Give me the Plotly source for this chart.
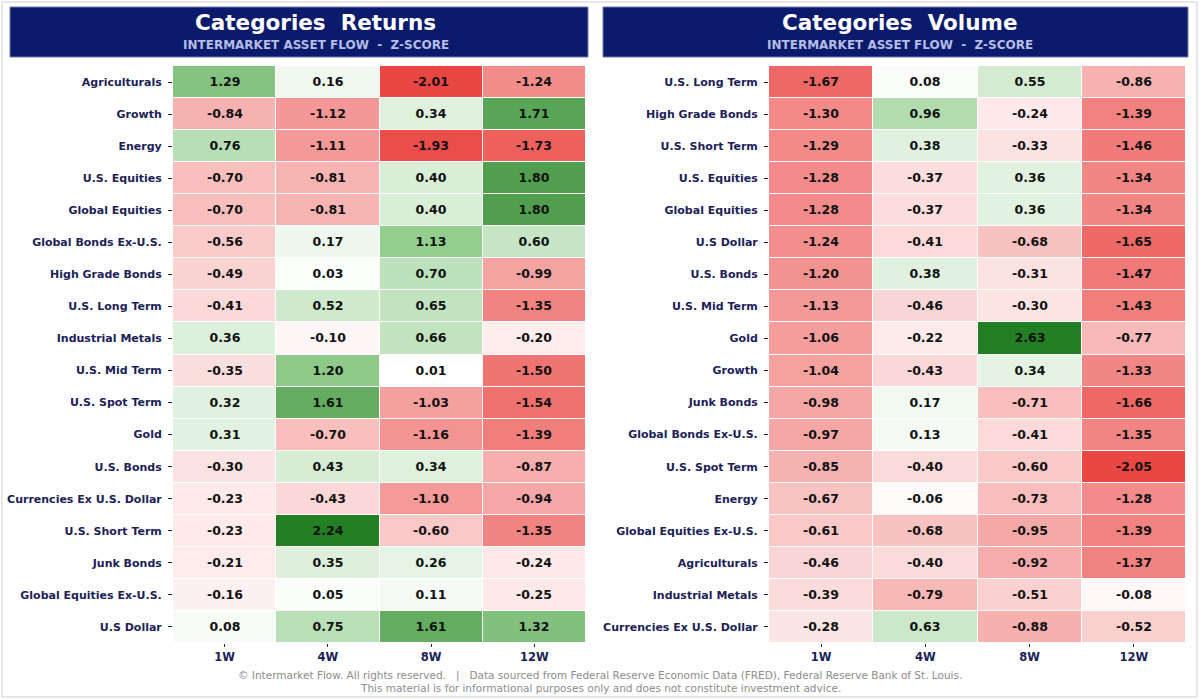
import plotly.graph_objects as go

# ---------------- data ----------------
periods = ["1W", "4W", "8W", "12W"]

returns_categories = [
    "Agriculturals", "Growth", "Energy", "U.S. Equities", "Global Equities",
    "Global Bonds Ex-U.S.", "High Grade Bonds", "U.S. Long Term", "Industrial Metals",
    "U.S. Mid Term", "U.S. Spot Term", "Gold", "U.S. Bonds", "Currencies Ex U.S. Dollar",
    "U.S. Short Term", "Junk Bonds", "Global Equities Ex-U.S.", "U.S Dollar",
]
returns_values = [
    [1.29, 0.16, -2.01, -1.24],
    [-0.84, -1.12, 0.34, 1.71],
    [0.76, -1.11, -1.93, -1.73],
    [-0.70, -0.81, 0.40, 1.80],
    [-0.70, -0.81, 0.40, 1.80],
    [-0.56, 0.17, 1.13, 0.60],
    [-0.49, 0.03, 0.70, -0.99],
    [-0.41, 0.52, 0.65, -1.35],
    [0.36, -0.10, 0.66, -0.20],
    [-0.35, 1.20, 0.01, -1.50],
    [0.32, 1.61, -1.03, -1.54],
    [0.31, -0.70, -1.16, -1.39],
    [-0.30, 0.43, 0.34, -0.87],
    [-0.23, -0.43, -1.10, -0.94],
    [-0.23, 2.24, -0.60, -1.35],
    [-0.21, 0.35, 0.26, -0.24],
    [-0.16, 0.05, 0.11, -0.25],
    [0.08, 0.75, 1.61, 1.32],
]

volume_categories = [
    "U.S. Long Term", "High Grade Bonds", "U.S. Short Term", "U.S. Equities",
    "Global Equities", "U.S Dollar", "U.S. Bonds", "U.S. Mid Term", "Gold", "Growth",
    "Junk Bonds", "Global Bonds Ex-U.S.", "U.S. Spot Term", "Energy",
    "Global Equities Ex-U.S.", "Agriculturals", "Industrial Metals",
    "Currencies Ex U.S. Dollar",
]
volume_values = [
    [-1.67, 0.08, 0.55, -0.86],
    [-1.30, 0.96, -0.24, -1.39],
    [-1.29, 0.38, -0.33, -1.46],
    [-1.28, -0.37, 0.36, -1.34],
    [-1.28, -0.37, 0.36, -1.34],
    [-1.24, -0.41, -0.68, -1.65],
    [-1.20, 0.38, -0.31, -1.47],
    [-1.13, -0.46, -0.30, -1.43],
    [-1.06, -0.22, 2.63, -0.77],
    [-1.04, -0.43, 0.34, -1.33],
    [-0.98, 0.17, -0.71, -1.66],
    [-0.97, 0.13, -0.41, -1.35],
    [-0.85, -0.40, -0.60, -2.05],
    [-0.67, -0.06, -0.73, -1.28],
    [-0.61, -0.68, -0.95, -1.39],
    [-0.46, -0.40, -0.92, -1.37],
    [-0.39, -0.79, -0.51, -0.08],
    [-0.28, 0.63, -0.88, -0.52],
]

# ---------------- styling ----------------
W, H = 1200, 700
NAVY = "#0b1a6b"
LABEL = "#1c2157"
RED = "#ea4642"
GREEN_MID = "#95cf90"
GREEN = "#237f23"
FONT = "DejaVu Sans"


def colorscale_for(values):
    flat = [v for row in values for v in row]
    lo, hi = min(flat), max(flat)
    p0 = -lo / (hi - lo)
    return lo, hi, [
        [0.0, RED],
        [p0, "#ffffff"],
        [p0 + (1 - p0) * 0.5, GREEN_MID],
        [1.0, GREEN],
    ]


def px_x(v):
    return v / W


def px_y(v):
    return 1 - v / H


fig = go.Figure()

panels = [
    (returns_categories, returns_values, "x", "y"),
    (volume_categories, volume_values, "x2", "y2"),
]

for cats, vals, xa, ya in panels:
    lo, hi, cs = colorscale_for(vals)
    fig.add_trace(go.Heatmap(
        z=vals, x=periods, y=cats, xaxis=xa, yaxis=ya,
        zmin=lo, zmax=hi, colorscale=cs, showscale=False,
        xgap=1, ygap=1,
        texttemplate="<b>%{z:.2f}</b>",
        textfont=dict(family=FONT, size=12.5, color="#111111"),
        hoverinfo="skip",
    ))

axis_common_x = dict(
    showgrid=False, zeroline=False, showline=False,
    ticks="outside", ticklen=3, tickcolor=LABEL, tickwidth=1,
    tickfont=dict(family=FONT, size=11.5, color=LABEL, weight="bold"),
    fixedrange=True,
)
axis_common_y = dict(
    showgrid=False, zeroline=False, showline=False, autorange="reversed",
    ticks="outside", ticklen=4, tickcolor=LABEL, tickwidth=1,
    tickfont=dict(family=FONT, size=11, color=LABEL, weight="bold"),
    ticklabelstandoff=4, fixedrange=True,
)

top, bottom = 66, 643
fig.update_layout(
    xaxis=dict(domain=[px_x(173), px_x(586)], anchor="y", **axis_common_x),
    yaxis=dict(domain=[px_y(bottom), px_y(top)], anchor="x", **axis_common_y),
    xaxis2=dict(domain=[px_x(769), px_x(1186)], anchor="y2", **axis_common_x),
    yaxis2=dict(domain=[px_y(bottom), px_y(top)], anchor="x2", **axis_common_y),
)

shapes = [
    dict(type="rect", xref="paper", yref="paper",
         x0=px_x(2), x1=px_x(1197), y0=px_y(697), y1=px_y(2),
         line=dict(color="#cfcfcf", width=1), fillcolor="rgba(0,0,0,0)", layer="below"),
    dict(type="rect", xref="paper", yref="paper",
         x0=px_x(10), x1=px_x(588), y0=px_y(57), y1=px_y(7),
         line=dict(color="#6f7bb0", width=1), fillcolor=NAVY, layer="below"),
    dict(type="rect", xref="paper", yref="paper",
         x0=px_x(603), x1=px_x(1188), y0=px_y(57), y1=px_y(7),
         line=dict(color="#6f7bb0", width=1), fillcolor=NAVY, layer="below"),
]

annotations = []
for title, cx in [("Categories  Returns", 316), ("Categories  Volume", 900)]:
    annotations.append(dict(
        text=title, x=px_x(cx), y=px_y(23), xref="paper", yref="paper",
        showarrow=False, xanchor="center", yanchor="middle",
        font=dict(family=FONT, size=21.5, color="white", weight="bold"),
    ))
    annotations.append(dict(
        text="INTERMARKET ASSET FLOW  -  Z-SCORE", x=px_x(cx), y=px_y(44.5),
        xref="paper", yref="paper", showarrow=False, xanchor="center", yanchor="middle",
        font=dict(family=FONT, size=12, color="#b4bde6", weight="bold"),
    ))

annotations.append(dict(
    text="© Intermarket Flow. All rights reserved.   |   Data sourced from Federal Reserve Economic Data (FRED), Federal Reserve Bank of St. Louis.",
    x=0.5, y=px_y(675), xref="paper", yref="paper", showarrow=False,
    xanchor="center", yanchor="middle",
    font=dict(family=FONT, size=10.5, color="#8c8c8c"),
))
annotations.append(dict(
    text="This material is for informational purposes only and does not constitute investment advice.",
    x=0.5, y=px_y(688), xref="paper", yref="paper", showarrow=False,
    xanchor="center", yanchor="middle",
    font=dict(family=FONT, size=10.5, color="#8c8c8c"),
))

fig.update_layout(
    width=W, height=H,
    margin=dict(l=0, r=0, t=0, b=0),
    paper_bgcolor="white", plot_bgcolor="white",
    shapes=shapes, annotations=annotations,
    font=dict(family=FONT),
)

fig.write_html("out.html", config={"displayModeBar": False})
